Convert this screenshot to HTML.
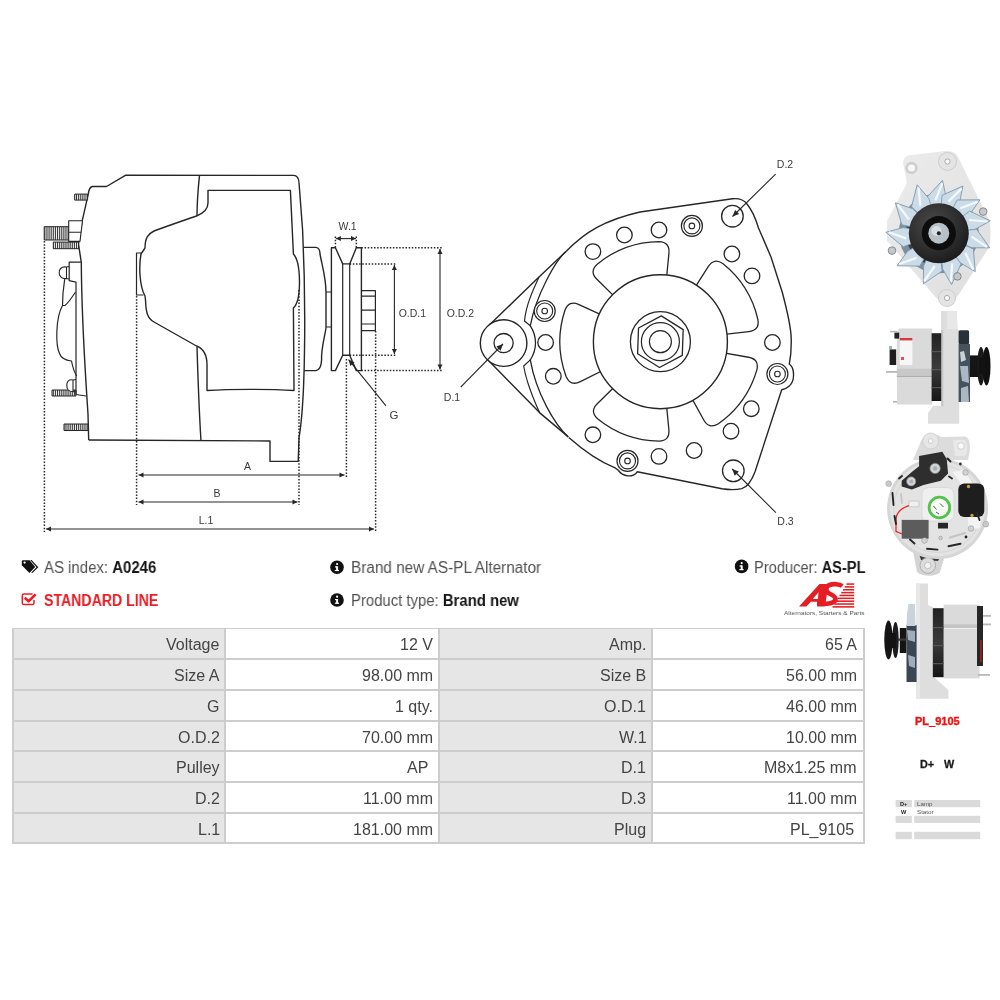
<!DOCTYPE html>
<html><head><meta charset="utf-8"><style>
html,body{margin:0;padding:0;background:#fff;width:1000px;height:1000px;overflow:hidden}
body{position:relative;font-family:"Liberation Sans",sans-serif}
.cell{position:absolute;box-sizing:border-box;text-align:right;padding-right:4.5px;font-size:16px;color:#444444;line-height:28.90px;white-space:nowrap}
.cell span{position:relative;top:2px;display:inline-block;will-change:transform}
.t{position:absolute;white-space:nowrap;line-height:1.2;will-change:transform}
svg{position:absolute;left:0;top:0;will-change:transform}
</style></head><body>
<svg width="1000" height="1000" viewBox="0 0 1000 1000" stroke-linecap="butt" stroke-linejoin="round">
<defs><pattern id="hatch" width="1.9" height="4" patternUnits="userSpaceOnUse"><rect width="1.9" height="4" fill="#fff"/><rect width="1" height="4" fill="#333"/></pattern></defs>
<path d="M92,186.5 L106.5,186.5 L125.4,175.3 L293.6,175.4 Q298.5,175.5 299,182.6" fill="none" stroke="#262626" stroke-width="1.4" />
<path d="M92,186.5 Q89,188 88.3,193.8 L82,221.8 L78.5,244.2 L81.3,262.4 C81.5,300 83,340 88,414 L88.7,440" fill="none" stroke="#262626" stroke-width="1.4" />
<path d="M299,182.6 L302.6,230 C304,260 305,320 304.5,350 C304,390 302,420 299,438 L298.2,461.4" fill="none" stroke="#262626" stroke-width="1.4" />
<path d="M88.7,440 L270,441 L270,461.4 L298.5,461.4" fill="none" stroke="#262626" stroke-width="1.4" />
<path d="M199.5,175.4 C198,190 197,205 197,216" fill="none" stroke="#262626" stroke-width="1.4" />
<path d="M197,347 C198,380 199,410 201,441" fill="none" stroke="#262626" stroke-width="1.4" />
<path d="M208,190.4 L290.4,190.4 L293.4,254 C301,262 302,300 293.4,308 L294,390.5 C270,389 230,389 207,390.5 L207,365 C207,352 202,348 196.5,346 L154,322 C147,318 146,312 145.5,300 L145,296 C139,285 139,265 141,254 L145,248 C145,238 148,234 154,231 C170,225 185,220 196.5,216 C204,213 208,208 208,203 Z" fill="none" stroke="#262626" stroke-width="1.4" />
<path d="M142,253 L136.5,253 L136.5,295 L143.5,295" fill="none" stroke="#262626" stroke-width="1.2" />
<path d="M304,247.4 L316,247.4 Q320,248 320,254 C322,265 326,278 326,292 L326,328 C324,340 321,350 321.6,360 Q321,370 316,370.6 L304,370.6" fill="none" stroke="#262626" stroke-width="1.4" />
<path d="M326,292 L331.4,292 M326,327 L331.4,327" fill="none" stroke="#262626" stroke-width="1.2" />
<path d="M331.4,247.8 L335.4,247.8 L342.7,263.9 L349.7,263.9 L356.3,247.8 L361.4,247.8 L361.4,370.6 L356.3,370.6 L349.7,355.2 L342.7,355.2 L335.4,370.6 L331.4,370.6 Z" fill="none" stroke="#262626" stroke-width="1.4" />
<path d="M342.7,263.9 L342.7,355.2 M349.7,263.9 L349.7,355.2" fill="none" stroke="#262626" stroke-width="1.2" />
<path d="M361.4,290.7 L375.4,290.7 L375.4,330.6 L361.4,330.6 M361.4,296.2 L375.4,296.2 M361.4,310.1 L375.4,310.1 M361.4,324 L375.4,324" fill="none" stroke="#262626" stroke-width="1.2" />
<rect x="74.7" y="194.1" width="12.899999999999991" height="6.0" fill="url(#hatch)" stroke="#262626" stroke-width="1"/>
<rect x="44.2" y="226.7" width="24.5" height="13.300000000000011" fill="url(#hatch)" stroke="#262626" stroke-width="1"/>
<path d="M68.7,220.7 L82.5,220.7 L80,241.4 L68.7,241.4 Z M68.7,232.3 L81,232.3" fill="#fff" stroke="#262626" stroke-width="1.1"/>
<rect x="53.3" y="242.1" width="25.200000000000003" height="6.599999999999994" fill="url(#hatch)" stroke="#262626" stroke-width="1"/>
<rect x="52" y="390" width="24" height="6" fill="url(#hatch)" stroke="#262626" stroke-width="1"/>
<rect x="64" y="424" width="24" height="6.5" fill="url(#hatch)" stroke="#262626" stroke-width="1"/>
<path d="M80.8,262.2 L69.2,262 L69.2,280.7 L76,282.2 L76,394.5 L86,396" fill="none" stroke="#262626" stroke-width="1.2" />
<path d="M66.5,267 C61,266 58.8,270 59.2,273 C59.5,277 62,279 66.5,278.5 Z M66.5,267 L69.2,266.5 M66.5,278.5 L69.2,279" fill="#fff" stroke="#262626" stroke-width="1.1" />
<path d="M64.7,279.2 C63,290 62.5,300 62.5,305.5 C55.5,318 55.5,345 59.5,353.5 C61,358 64,360 71.5,361 C72.5,366 74,372 76.7,376" fill="none" stroke="#262626" stroke-width="1.2" />
<path d="M62.5,305.5 L65,305.5 C68,303 71,299 75.5,292" fill="none" stroke="#262626" stroke-width="1.1" />
<path d="M73,380 C68.5,379 66.8,382 66.8,385.5 C66.8,389 68.5,392 73,391.5 Z M73,380 L76,379.5 M73,391.5 L76,392" fill="#fff" stroke="#262626" stroke-width="1.1" />
<line x1="44.4" y1="241" x2="44.4" y2="532" stroke="#262626" stroke-width="1.5" stroke-dasharray="1.5 1.65"/>
<line x1="375.6" y1="331" x2="375.6" y2="532" stroke="#262626" stroke-width="1.5" stroke-dasharray="1.5 1.65"/>
<line x1="46" y1="529" x2="374" y2="529" stroke="#262626" stroke-width="1.1"/>
<path d="M374.00,529.00 L369.00,531.50 L369.00,526.50 Z" fill="#262626"/>
<path d="M46.00,529.00 L51.00,526.50 L51.00,531.50 Z" fill="#262626"/>
<line x1="136.6" y1="296" x2="136.6" y2="505" stroke="#262626" stroke-width="1.5" stroke-dasharray="1.5 1.65"/>
<line x1="299" y1="290" x2="299" y2="505" stroke="#262626" stroke-width="1.5" stroke-dasharray="1.5 1.65"/>
<line x1="138.5" y1="502" x2="297.5" y2="502" stroke="#262626" stroke-width="1.1"/>
<path d="M297.50,502.00 L292.50,504.50 L292.50,499.50 Z" fill="#262626"/>
<path d="M138.50,502.00 L143.50,499.50 L143.50,504.50 Z" fill="#262626"/>
<line x1="346.4" y1="359" x2="346.4" y2="478" stroke="#262626" stroke-width="1.5" stroke-dasharray="1.5 1.65"/>
<line x1="138.5" y1="475" x2="344.5" y2="475" stroke="#262626" stroke-width="1.1"/>
<path d="M344.50,475.00 L339.50,477.50 L339.50,472.50 Z" fill="#262626"/>
<path d="M138.50,475.00 L143.50,472.50 L143.50,477.50 Z" fill="#262626"/>
<text x="247.5" y="469.5" font-size="10.5" fill="#3a3a3a" text-anchor="middle" font-family="Liberation Sans, sans-serif">A</text>
<text x="217" y="496.5" font-size="10.5" fill="#3a3a3a" text-anchor="middle" font-family="Liberation Sans, sans-serif">B</text>
<text x="206" y="523.5" font-size="10.5" fill="#3a3a3a" text-anchor="middle" font-family="Liberation Sans, sans-serif">L.1</text>
<line x1="335.4" y1="236.5" x2="335.4" y2="247.5" stroke="#262626" stroke-width="1.5" stroke-dasharray="1.5 1.65"/>
<line x1="356.3" y1="236.5" x2="356.3" y2="247.5" stroke="#262626" stroke-width="1.5" stroke-dasharray="1.5 1.65"/>
<line x1="335.8" y1="238.6" x2="356" y2="238.6" stroke="#262626" stroke-width="1.1"/>
<path d="M356.00,238.60 L351.00,241.10 L351.00,236.10 Z" fill="#262626"/>
<path d="M335.80,238.60 L340.80,236.10 L340.80,241.10 Z" fill="#262626"/>
<text x="347.6" y="229.9" font-size="10.5" fill="#3a3a3a" text-anchor="middle" font-family="Liberation Sans, sans-serif">W.1</text>
<line x1="361.4" y1="247.8" x2="442" y2="247.8" stroke="#262626" stroke-width="1.5" stroke-dasharray="1.5 1.65"/>
<line x1="361.4" y1="370.6" x2="442" y2="370.6" stroke="#262626" stroke-width="1.5" stroke-dasharray="1.5 1.65"/>
<line x1="440" y1="249" x2="440" y2="369.5" stroke="#262626" stroke-width="1.1"/>
<path d="M440.00,369.50 L437.50,364.50 L442.50,364.50 Z" fill="#262626"/>
<path d="M440.00,249.00 L442.50,254.00 L437.50,254.00 Z" fill="#262626"/>
<line x1="349.7" y1="263.9" x2="396" y2="263.9" stroke="#262626" stroke-width="1.5" stroke-dasharray="1.5 1.65"/>
<line x1="349.7" y1="355.2" x2="396" y2="355.2" stroke="#262626" stroke-width="1.5" stroke-dasharray="1.5 1.65"/>
<line x1="394.4" y1="265" x2="394.4" y2="354" stroke="#262626" stroke-width="1.1"/>
<path d="M394.40,354.00 L391.90,349.00 L396.90,349.00 Z" fill="#262626"/>
<path d="M394.40,265.00 L396.90,270.00 L391.90,270.00 Z" fill="#262626"/>
<text x="412.4" y="317.2" font-size="10.5" fill="#3a3a3a" text-anchor="middle" font-family="Liberation Sans, sans-serif">O.D.1</text>
<text x="460.4" y="317.2" font-size="10.5" fill="#3a3a3a" text-anchor="middle" font-family="Liberation Sans, sans-serif">O.D.2</text>
<line x1="386" y1="405.8" x2="348.6" y2="359.6" stroke="#262626" stroke-width="1.1"/>
<path d="M348.60,359.60 L354.47,362.56 L350.28,365.96 Z" fill="#262626"/>
<text x="394" y="419" font-size="11.5" fill="#3a3a3a" text-anchor="middle" font-family="Liberation Sans, sans-serif">G</text>
<path d="M566,251.6 C585,232 605,220 640,212 L732.4,198.8 C740,198 744,200 747,204 C751,209 755,216 758.5,228 L771,257 L782.2,292 C787,310 791,325 791.2,338.5 C791.5,350 790.5,358 789.3,364 C795,368 795,381 789.3,386 C786,389 783.5,389.5 781.7,389.8 L755.1,471.5 C752,480 747,487 741.8,488.6 C736,490 730,490 722,488.8 L637.2,471.8 C633,478 623,477 618,470 L615.6,468.2 C600,462 585,452 568.8,437.6" fill="none" stroke="#262626" stroke-width="1.4" />
<path d="M487.8,326.6 L539,277 L566,251.6" fill="none" stroke="#262626" stroke-width="1.4" />
<path d="M487.8,359.8 L539.5,412.6 L568.3,436.9" fill="none" stroke="#262626" stroke-width="1.4" />
<path d="M566,251.6 C556,260 536,295 530.3,325.8 A30.5,30.5 0 0 1 530.3,359.9 C536,393 555,425 568.3,436.9" fill="none" stroke="#262626" stroke-width="1.3" />
<path d="M539,277 C533,290 526,305 524.5,321 L530.3,325.8" fill="none" stroke="#262626" stroke-width="1.2" />
<path d="M539.5,412.6 C533,398 526,381 523.7,366 L530.3,359.9" fill="none" stroke="#262626" stroke-width="1.2" />
<circle cx="503.60" cy="343.10" r="23.30" fill="#fff" stroke="#262626" stroke-width="1.4"/>
<circle cx="503.60" cy="343.10" r="9.60" fill="none" stroke="#262626" stroke-width="1.3"/>
<path d="M605.80,316.82 L578.96,304.58 Q568.95,300.02 564.94,310.26 A100.5,100.5 0 0 0 566.10,376.45 Q570.46,386.54 580.30,381.63 L606.70,368.47" fill="none" stroke="#262626" stroke-width="1.3" />
<path d="M666.15,281.98 L668.93,253.11 Q669.98,242.16 659.00,241.71 A100,100 0 0 0 597.20,264.20 Q589.07,271.61 596.92,279.32 L617.60,299.65" fill="none" stroke="#262626" stroke-width="1.3" />
<path d="M720.01,334.91 L748.83,331.62 Q759.76,330.38 757.91,319.54 A100,100 0 0 0 723.06,263.77 Q714.13,257.36 708.22,266.64 L692.64,291.10" fill="none" stroke="#262626" stroke-width="1.3" />
<path d="M689.49,394.18 L703.79,419.98 Q709.12,429.60 718.43,423.75 A100.5,100.5 0 0 0 756.87,369.86 Q759.37,359.15 748.54,357.24 L719.49,352.12" fill="none" stroke="#262626" stroke-width="1.3" />
<path d="M617.60,383.75 L597.28,403.73 Q589.43,411.44 597.56,418.84 A99.5,99.5 0 0 0 658.95,441.19 Q669.94,440.74 668.88,429.79 L666.15,401.42" fill="none" stroke="#262626" stroke-width="1.3" />
<circle cx="660.40" cy="341.70" r="67.00" fill="#fff" stroke="#262626" stroke-width="1.4"/>
<circle cx="660.40" cy="341.70" r="30.00" fill="none" stroke="#262626" stroke-width="1.3"/>
<polygon points="661.30,315.92 638.52,328.03 637.62,353.81 659.50,367.48 682.28,355.37 683.18,329.59" fill="none" stroke="#262626" stroke-width="1.3"/>
<circle cx="660.40" cy="341.70" r="19.00" fill="none" stroke="#262626" stroke-width="1.2"/>
<circle cx="660.40" cy="341.70" r="11.00" fill="none" stroke="#262626" stroke-width="1.2"/>
<circle cx="592.90" cy="251.60" r="7.80" fill="none" stroke="#262626" stroke-width="1.3"/>
<circle cx="624.40" cy="235.00" r="7.80" fill="none" stroke="#262626" stroke-width="1.3"/>
<circle cx="659.00" cy="230.00" r="7.80" fill="none" stroke="#262626" stroke-width="1.3"/>
<circle cx="731.90" cy="254.00" r="7.80" fill="none" stroke="#262626" stroke-width="1.3"/>
<circle cx="752.00" cy="275.90" r="7.80" fill="none" stroke="#262626" stroke-width="1.3"/>
<circle cx="772.40" cy="342.50" r="7.80" fill="none" stroke="#262626" stroke-width="1.3"/>
<circle cx="751.30" cy="408.70" r="7.80" fill="none" stroke="#262626" stroke-width="1.3"/>
<circle cx="731.00" cy="431.20" r="7.80" fill="none" stroke="#262626" stroke-width="1.3"/>
<circle cx="694.10" cy="450.50" r="7.80" fill="none" stroke="#262626" stroke-width="1.3"/>
<circle cx="659.00" cy="456.40" r="7.80" fill="none" stroke="#262626" stroke-width="1.3"/>
<circle cx="592.90" cy="434.80" r="7.80" fill="none" stroke="#262626" stroke-width="1.3"/>
<circle cx="553.30" cy="376.30" r="7.80" fill="none" stroke="#262626" stroke-width="1.3"/>
<circle cx="545.60" cy="342.50" r="7.80" fill="none" stroke="#262626" stroke-width="1.3"/>
<circle cx="691.90" cy="225.90" r="10.50" fill="#fff" stroke="#262626" stroke-width="1.2"/>
<circle cx="691.90" cy="225.90" r="8.00" fill="none" stroke="#262626" stroke-width="1.1"/>
<circle cx="691.90" cy="225.90" r="2.80" fill="none" stroke="#262626" stroke-width="1.1"/>
<circle cx="777.40" cy="374.00" r="10.50" fill="#fff" stroke="#262626" stroke-width="1.2"/>
<circle cx="777.40" cy="374.00" r="8.00" fill="none" stroke="#262626" stroke-width="1.1"/>
<circle cx="777.40" cy="374.00" r="2.80" fill="none" stroke="#262626" stroke-width="1.1"/>
<circle cx="627.50" cy="460.90" r="10.50" fill="#fff" stroke="#262626" stroke-width="1.2"/>
<circle cx="627.50" cy="460.90" r="8.00" fill="none" stroke="#262626" stroke-width="1.1"/>
<circle cx="627.50" cy="460.90" r="2.80" fill="none" stroke="#262626" stroke-width="1.1"/>
<circle cx="544.70" cy="311.00" r="10.50" fill="#fff" stroke="#262626" stroke-width="1.2"/>
<circle cx="544.70" cy="311.00" r="8.00" fill="none" stroke="#262626" stroke-width="1.1"/>
<circle cx="544.70" cy="311.00" r="2.80" fill="none" stroke="#262626" stroke-width="1.1"/>
<circle cx="732.40" cy="216.20" r="10.80" fill="none" stroke="#262626" stroke-width="1.3"/>
<circle cx="733.30" cy="470.80" r="10.80" fill="none" stroke="#262626" stroke-width="1.3"/>
<line x1="775.6" y1="174.2" x2="732.5" y2="216.5" stroke="#262626" stroke-width="1.1"/>
<path d="M732.50,216.50 L735.11,209.88 L739.17,214.02 Z" fill="#262626"/>
<text x="785" y="167.6" font-size="10.5" fill="#3a3a3a" text-anchor="middle" font-family="Liberation Sans, sans-serif">D.2</text>
<line x1="775.9" y1="512.7" x2="732.2" y2="469" stroke="#262626" stroke-width="1.1"/>
<path d="M732.20,469.00 L738.85,471.55 L734.75,475.65 Z" fill="#262626"/>
<text x="785.5" y="524.5" font-size="10.5" fill="#3a3a3a" text-anchor="middle" font-family="Liberation Sans, sans-serif">D.3</text>
<line x1="460.8" y1="387" x2="503" y2="344" stroke="#262626" stroke-width="1.1"/>
<path d="M503.00,344.00 L500.52,350.67 L496.38,346.61 Z" fill="#262626"/>
<text x="452" y="400.5" font-size="10.5" fill="#3a3a3a" text-anchor="middle" font-family="Liberation Sans, sans-serif">D.1</text>
<defs>
<radialGradient id="pul" cx="0.4" cy="0.35" r="0.7"><stop offset="0" stop-color="#4a4a4a"/><stop offset="0.6" stop-color="#2e2e2e"/><stop offset="1" stop-color="#1a1a1a"/></radialGradient>
<linearGradient id="gray1" x1="0" y1="0" x2="1" y2="1"><stop offset="0" stop-color="#ececec"/><stop offset="1" stop-color="#dedede"/></linearGradient>
<linearGradient id="body2" x1="0" y1="0" x2="0" y2="1"><stop offset="0" stop-color="#e2e2e2"/><stop offset="0.45" stop-color="#d8d8d8"/><stop offset="0.5" stop-color="#c4c4c4"/><stop offset="1" stop-color="#d2d2d2"/></linearGradient>
<linearGradient id="blk" x1="0" y1="0" x2="0" y2="1"><stop offset="0" stop-color="#222"/><stop offset="0.5" stop-color="#3a3a3a"/><stop offset="1" stop-color="#151515"/></linearGradient>
<radialGradient id="fan" cx="0.5" cy="0.5" r="0.5"><stop offset="0.55" stop-color="#9fb6c8"/><stop offset="0.8" stop-color="#d6e2ea"/><stop offset="1" stop-color="#b8c8d4"/></radialGradient>
</defs>
<path d="M903.2,163.4 C903,157 907,155 912,155 L941,151.5 C950,150 956,152 958,157 L989.6,221 C991,232 991,240 988.7,248 L960.8,291.2 C957,298 952,302 946,302 C941,302 937,299 933.8,295 L887,240.8 L887,221 L906.8,183.2 Z" fill="url(#gray1)"/>
<circle cx="911.5" cy="168" r="6.2" fill="#cfcfcf"/><circle cx="911.5" cy="168" r="3.6" fill="#f7f7f7"/>
<circle cx="947.5" cy="161.5" r="9" fill="#e4e4e4" stroke="#cdcdcd" stroke-width="1"/><circle cx="947.5" cy="161.5" r="2.6" fill="#fafafa" stroke="#999" stroke-width="0.8"/>
<circle cx="947" cy="298" r="8.5" fill="#e4e4e4" stroke="#cdcdcd" stroke-width="1"/><circle cx="947" cy="298" r="2.6" fill="#fafafa" stroke="#999" stroke-width="0.8"/>
<circle cx="938.8" cy="233.2" r="40" fill="#7d8f9c"/><circle cx="938.8" cy="233.2" r="33" fill="#3a4046"/>
<path d="M942.5,180.3 L946.3,198.0 L944.6,205.8 L930.1,206.6 L927.1,197.1 Z" fill="#cbdce8" stroke="#7f98ab" stroke-width="0.9"/>
<path d="M942.3,183.3 L935.4,200.4" stroke="#f4f8fb" stroke-width="2.2"/>
<path d="M962.9,186.0 L959.4,203.7 L954.9,210.3 L941.2,205.3 L942.1,195.3 Z" fill="#cbdce8" stroke="#7f98ab" stroke-width="0.9"/>
<path d="M961.5,188.6 L948.4,201.6" stroke="#f4f8fb" stroke-width="2.2"/>
<path d="M980.0,199.8 L969.7,214.7 L962.8,218.8 L952.4,208.7 L957.2,200.0 Z" fill="#cbdce8" stroke="#7f98ab" stroke-width="0.9"/>
<path d="M977.7,201.7 L960.4,208.3" stroke="#f4f8fb" stroke-width="2.2"/>
<path d="M990.3,220.8 L974.6,229.7 L966.7,230.5 L961.6,216.9 L969.7,211.1 Z" fill="#cbdce8" stroke="#7f98ab" stroke-width="0.9"/>
<path d="M987.4,221.5 L969.1,220.0" stroke="#f4f8fb" stroke-width="2.2"/>
<path d="M989.7,247.8 L971.7,247.8 L964.4,244.6 L966.6,230.3 L976.6,229.2 Z" fill="#cbdce8" stroke="#7f98ab" stroke-width="0.9"/>
<path d="M986.9,247.0 L971.6,236.6" stroke="#f4f8fb" stroke-width="2.2"/>
<path d="M975.3,271.6 L959.7,262.5 L955.1,256.0 L964.3,244.8 L973.4,249.0 Z" fill="#cbdce8" stroke="#7f98ab" stroke-width="0.9"/>
<path d="M973.2,269.5 L965.3,252.8" stroke="#f4f8fb" stroke-width="2.2"/>
<path d="M951.6,284.6 L942.6,269.0 L941.7,261.0 L955.3,255.9 L961.1,263.9 Z" fill="#cbdce8" stroke="#7f98ab" stroke-width="0.9"/>
<path d="M950.9,281.7 L952.2,263.3" stroke="#f4f8fb" stroke-width="2.2"/>
<path d="M923.3,283.9 L923.6,265.8 L927.0,258.6 L941.2,261.1 L942.1,271.1 Z" fill="#cbdce8" stroke="#7f98ab" stroke-width="0.9"/>
<path d="M924.2,281.0 L934.8,266.0" stroke="#f4f8fb" stroke-width="2.2"/>
<path d="M897.0,265.8 L907.6,251.2 L914.6,247.2 L924.8,257.4 L919.8,266.1 Z" fill="#cbdce8" stroke="#7f98ab" stroke-width="0.9"/>
<path d="M899.4,264.0 L916.7,257.7" stroke="#f4f8fb" stroke-width="2.2"/>
<path d="M885.8,232.3 L903.2,227.6 L911.1,228.8 L912.7,243.2 L903.3,246.8 Z" fill="#cbdce8" stroke="#7f98ab" stroke-width="0.9"/>
<path d="M888.8,232.3 L906.2,238.4" stroke="#f4f8fb" stroke-width="2.2"/>
<path d="M895.4,202.8 L912.5,208.6 L918.3,214.1 L911.5,226.9 L901.8,224.7 Z" fill="#cbdce8" stroke="#7f98ab" stroke-width="0.9"/>
<path d="M897.8,204.5 L908.9,219.3" stroke="#f4f8fb" stroke-width="2.2"/>
<path d="M917.2,184.8 L928.9,198.6 L931.1,206.3 L918.7,213.7 L911.5,206.8 Z" fill="#cbdce8" stroke="#7f98ab" stroke-width="0.9"/>
<path d="M918.5,187.5 L920.3,205.8" stroke="#f4f8fb" stroke-width="2.2"/>
<circle cx="938.8" cy="233.2" r="30" fill="url(#pul)"/>
<circle cx="938.8" cy="233.2" r="17.1" fill="#0d0d0d"/><circle cx="938.8" cy="233.2" r="10.5" fill="#b7c0c6"/><circle cx="936.5" cy="231" r="5" fill="#d8dee2"/><circle cx="938.8" cy="233.2" r="2" fill="#222"/>
<circle cx="983.2" cy="211.6" r="3.8" fill="#c4c8cc" stroke="#777" stroke-width="0.8"/><circle cx="892" cy="250.6" r="3.8" fill="#c4c8cc" stroke="#777" stroke-width="0.8"/><circle cx="957.4" cy="276.4" r="3.8" fill="#c4c8cc" stroke="#777" stroke-width="0.8"/>
<path d="M941,311 L956.8,311 L957.5,329 L959.2,330 L959.2,423.8 L928,423.8 L928,413 L933,405.8 L941.2,405.8 Z" fill="#dedede"/>
<path d="M947,311 L956.8,311 L956.8,329 L947,329 Z" fill="#e8e8e8"/>
<path d="M899,328.4 L932.2,328.4 L932.2,404.6 L897,404.6 L896.8,332 Z" fill="#dadada"/>
<rect x="896.8" y="368.6" width="35.4" height="7.2" fill="#c8c8c8"/><rect x="896.8" y="375.8" width="35.4" height="1.2" fill="#b0b0b0"/>
<rect x="931.6" y="333.2" width="10.8" height="67.8" fill="url(#blk)"/>
<rect x="931.6" y="351" width="10.8" height="1.2" fill="#555"/><rect x="931.6" y="369" width="10.8" height="1.2" fill="#555"/><rect x="931.6" y="387" width="10.8" height="1.2" fill="#555"/>
<rect x="941.2" y="330" width="2" height="76" fill="#c4c4c4"/>
<rect x="958.6" y="330.2" width="10.5" height="14" rx="1.5" fill="#27313a"/><rect x="958.6" y="344" width="11.4" height="58" fill="#46525c"/><path d="M960,352 L964,351 L966,360 L961,362 Z" fill="#c8d0d8"/><path d="M960,366 L968,366 L969,383 L962,381 Z M961,388 L968,386 L969,402 L961,402 Z" fill="#a9b8c4"/>
<rect x="970" y="355.4" width="9.6" height="21.6" fill="#151515"/>
<ellipse cx="981" cy="366.2" rx="3.8" ry="19.2" fill="#1a1a1a"/><ellipse cx="986.5" cy="366.2" rx="4" ry="19.2" fill="#101010"/><rect x="979" y="358" width="6" height="16" fill="#121212"/>
<rect x="899.8" y="338" width="12.6" height="27" fill="#f6f6f6"/><rect x="899.8" y="338" width="12.6" height="2.4" fill="#d83a3a"/><rect x="901" y="357" width="3" height="3" fill="#e05050"/>
<rect x="889.6" y="349.4" width="6.6" height="15.6" fill="#1e1e1e"/><rect x="894.4" y="332.6" width="4.8" height="6" fill="#222"/>
<rect x="890" y="330.8" width="7" height="1.6" fill="#b8b8b8"/><rect x="886" y="371" width="11" height="1.8" fill="#b8b8b8"/><rect x="893" y="401" width="4" height="1.6" fill="#b8b8b8"/><rect x="889" y="346" width="3" height="3" fill="#9bb"/>
<path d="M913,460 L921,441 C924,434 936,432 941,437 L965,436.5 C971,438 971,450 968,460 Z" fill="#dcdcdc"/>
<path d="M953,440 L965,440 C968,445 968,452 965,456 L955,456 Z" fill="#e8e8e8"/><circle cx="961" cy="446" r="3.3" fill="#fbfbfb" stroke="#b8b8b8" stroke-width="0.6"/>
<circle cx="930.7" cy="441" r="8" fill="#e6e6e6" stroke="#cccccc" stroke-width="0.8"/><circle cx="930.7" cy="441" r="2.3" fill="#fbfbfb" stroke="#aaa" stroke-width="0.5"/>
<path d="M912,546 L947,549 L940,572 C936,577 922,577 917,572 Z" fill="#d4d4d4"/><path d="M918,551 L942,553 L938,561 L921,560 Z" fill="#3c3c3c"/>
<circle cx="927.8" cy="565.5" r="7.8" fill="#dcdcdc" stroke="#a8a8a8" stroke-width="0.9"/><circle cx="927.8" cy="565.5" r="3.2" fill="#f2f2f2" stroke="#999" stroke-width="0.5"/>
<circle cx="937.6" cy="508.5" r="50.5" fill="#d6d6d6"/>
<circle cx="937.6" cy="508.5" r="47.5" fill="#e3e3e3"/>
<circle cx="937.6" cy="508.5" r="44" fill="none" stroke="#d2d2d2" stroke-width="0.8"/>
<path d="M952,472 C962,482 970,500 968,530 L980,528 C984,505 976,482 962,470 Z" fill="#f3f3f3"/>
<path d="M901.7,480.7 L913,471 L919.1,466.2 L919.1,456.1 L942.3,451.7 L946.7,459 L948.1,473.5 L940.9,480.7 L923.5,485 L911.9,489.4 L901.7,486.5 Z" fill="#2e2e2e"/>
<circle cx="935.1" cy="468.4" r="5.2" fill="#d0d4d8" stroke="#777" stroke-width="0.7"/><circle cx="935.1" cy="468.4" r="2.2" fill="#a9aeb2"/><circle cx="911.2" cy="481.4" r="4.6" fill="#d0d4d8" stroke="#777" stroke-width="0.7"/><circle cx="911.2" cy="481.4" r="1.9" fill="#a9aeb2"/>
<rect x="958.3" y="483.6" width="26" height="33.4" rx="6" fill="#1e1e1e"/><circle cx="968.5" cy="486.5" r="1.7" fill="#c9a040"/><circle cx="972" cy="515.5" r="1.7" fill="#c9a040"/>
<path d="M922,494 C922,489 926,487.5 930,487.5 L945,487.5 C951,487.5 954,490 954,496 L954,515 C954,519 951,521 947,521 L928,521 C924,521 922,519 922,515 Z" fill="#efefef" stroke="#d0d0d0" stroke-width="0.6"/>
<circle cx="939.4" cy="507.5" r="10.3" fill="#f7fbf5" stroke="#55c24f" stroke-width="2.8"/><path d="M933.5,506 L936.5,509.5 M940,503.5 L943.5,507 M936,512 L939,514" stroke="#444" stroke-width="0.9"/>
<rect x="901.7" y="519.9" width="26.9" height="18.8" fill="#5c5c5c"/>
<path d="M911.9,504.6 C903,507 896,512 896,520 L896,531.4 L902,534" fill="none" stroke="#e02a20" stroke-width="1.3"/><rect x="909" y="501" width="10" height="5.8" fill="#f0f0f0" stroke="#aaa" stroke-width="0.5"/>
<rect x="938" y="522.8" width="10" height="5.7" fill="#262626"/>
<g stroke="#262626" stroke-width="1.9" stroke-linecap="round" fill="none"><path d="M892.5,493 L893.5,505"/><path d="M894.5,516 L896,524"/><path d="M910,539.5 L914.5,543.5"/><path d="M927,548.8 L937.5,549.6"/><path d="M948.5,546.2 L960.5,543.8"/><path d="M899,478.5 L902,476"/><path d="M947.5,458.5 L950.5,461.5"/><path d="M949,476.5 L952,478.5"/><path d="M976.5,512 L979.5,520"/></g>
<path d="M950,537.5 L965,533" stroke="#c4c4c4" stroke-width="2.2" stroke-linecap="round"/><path d="M901,494 L902,503" stroke="#c4c4c4" stroke-width="1.8" stroke-linecap="round"/>
<circle cx="888.7" cy="483.6" r="2.9" fill="#c9c9c9" stroke="#999" stroke-width="0.5"/><circle cx="985.8" cy="524.2" r="2.9" fill="#c9c9c9" stroke="#999" stroke-width="0.5"/><circle cx="924.5" cy="540.5" r="2.8" fill="#cfd3d6" stroke="#888" stroke-width="0.5"/><circle cx="965.5" cy="472.5" r="2.8" fill="#cfd3d6" stroke="#888" stroke-width="0.5"/><circle cx="971" cy="528.5" r="2.8" fill="#cfd3d6" stroke="#888" stroke-width="0.5"/><circle cx="940.5" cy="538" r="1.8" fill="#cfd3d6" stroke="#888" stroke-width="0.5"/><circle cx="966" cy="537" r="1.4" fill="#222"/><circle cx="960.4" cy="464" r="1.4" fill="#333"/>
<path d="M916,583.6 L928,583.6 L928,605.2 L932.8,607 L932.8,676 L948.4,690 L948.4,698.8 L916,698.8 Z" fill="#dedede"/>
<rect x="916" y="583.6" width="4" height="115.2" fill="#e8e8e8"/>
<rect x="943.6" y="604.6" width="36" height="73.8" fill="#dadada"/><rect x="943.6" y="624.4" width="36" height="3.6" fill="#c4c4c4"/><rect x="943.6" y="628" width="36" height="1" fill="#f0f0f0"/>
<rect x="932.8" y="608.2" width="10.8" height="69" fill="url(#blk)"/>
<rect x="932.8" y="627" width="10.8" height="1.2" fill="#555"/><rect x="932.8" y="645" width="10.8" height="1.2" fill="#555"/><rect x="932.8" y="663" width="10.8" height="1.2" fill="#555"/>
<rect x="906.5" y="625" width="10.1" height="57" fill="#3a4652"/><path d="M908.5,604 L915,604 L915.5,626 L906.5,626 L907,614 Z" fill="#c9d3da"/><path d="M907,630 L915,631 L915,642 L908,640 Z M908,655 L915,657 L915,668 L909,666 Z" fill="#9eadb9"/>
<rect x="899.8" y="628" width="6.6" height="25" fill="#141414"/>
<ellipse cx="888.5" cy="640" rx="4.2" ry="19.5" fill="#141414"/><ellipse cx="895.5" cy="640" rx="3.2" ry="18" fill="#1c1c1c"/><rect x="888" y="633" width="8" height="15" fill="#121212"/><rect x="898" y="638.5" width="8.5" height="2.2" fill="#3a3a3a"/>
<rect x="977" y="606" width="6" height="60" fill="#262626"/><rect x="983" y="615" width="8" height="1.8" fill="#b8b8b8"/><rect x="983" y="623.5" width="8" height="1.8" fill="#b8b8b8"/><rect x="978" y="674" width="12" height="1.8" fill="#b8b8b8"/>
<path d="M981,640 L981,662" stroke="#e02020" stroke-width="1.1"/>
<rect x="895.6" y="800" width="16.2" height="7.2" fill="#dadada"/><rect x="914.2" y="800" width="66" height="7.2" fill="#dadada"/>
<rect x="895.6" y="815.8" width="16.2" height="7.2" fill="#dadada"/><rect x="914.2" y="815.8" width="66" height="7.2" fill="#dadada"/>
<rect x="895.6" y="831.8" width="16.2" height="7.4" fill="#dadada"/><rect x="914.2" y="831.8" width="66" height="7.4" fill="#dadada"/>
<text x="903.7" y="806" font-size="5.6" font-weight="bold" text-anchor="middle" fill="#222" font-family="Liberation Sans, sans-serif">D+</text>
<text x="903.7" y="814" font-size="5.6" font-weight="bold" text-anchor="middle" fill="#222" font-family="Liberation Sans, sans-serif">W</text>
<text x="917" y="806" font-size="6.2" fill="#555" font-family="Liberation Sans, sans-serif">Lamp</text>
<text x="917" y="814" font-size="6.2" fill="#555" font-family="Liberation Sans, sans-serif">Stator</text>
<path d="M799,606.5 L819.5,584 L828.5,584 L825,606.5 L817,606.5 L817.6,601.8 L810.8,601.8 L806.5,606.5 Z M812.8,599 L818.5,592.2 L817.9,599 Z" fill="#e31e24" fill-rule="evenodd"/>
<path d="M842.3,586 C839.5,583.9 833,583.6 829.5,585 C825.5,586.6 825.5,591 828.5,593 C831,594.8 835,595.5 835.5,598.5 C836,602 831,603.5 827,603.8 L817,603.8" fill="none" stroke="#e31e24" stroke-width="4.6"/>
<rect x="846.50" y="583.30" width="7.70" height="1.55" fill="#e31e24"/>
<rect x="844.75" y="586.15" width="9.45" height="1.55" fill="#e31e24"/>
<rect x="843.00" y="589.00" width="11.20" height="1.55" fill="#e31e24"/>
<rect x="841.25" y="591.85" width="12.95" height="1.55" fill="#e31e24"/>
<rect x="839.50" y="594.70" width="14.70" height="1.55" fill="#e31e24"/>
<rect x="837.75" y="597.55" width="16.45" height="1.55" fill="#e31e24"/>
<rect x="836.00" y="600.40" width="18.20" height="1.55" fill="#e31e24"/>
<rect x="834.25" y="603.25" width="19.95" height="1.55" fill="#e31e24"/>
<rect x="832.50" y="606.10" width="21.70" height="1.55" fill="#e31e24"/>
<text x="784" y="615" font-size="5.3" fill="#555" font-family="Liberation Sans, sans-serif" textLength="80.5" lengthAdjust="spacingAndGlyphs">Alternators, Starters &amp; Parts</text>
<g fill="#111"><path d="M22.6,560.2 L29.6,560.3 L35.2,567.1 L29.4,572.9 L21.8,565.2 L21.8,561 Z"/><circle cx="24.6" cy="562.6" r="1.15" fill="#fff"/><path d="M30.2,559.9 L31.6,559.9 L38.3,567.2 L32.4,573.1 L31.3,572.6 L36.5,567.2 Z"/></g>
<g fill="none" stroke="#ed1c24"><path d="M32.6,593.9 L24,593.9 Q22.3,593.9 22.3,595.6 L22.3,603 Q22.3,604.6 24,604.6 L32.4,604.6 Q34,604.6 34,603 L34,600" stroke-width="1.5"/><path d="M24.8,597.8 L28.6,601.3 L35.6,594.4" stroke-width="2.6"/></g>
<circle cx="337" cy="567.3" r="6.8" fill="#111"/><rect x="336.1" y="566.3" width="2" height="4.6" fill="#fff"/><rect x="334.8" y="569.9" width="4.2" height="1.2" fill="#fff"/><rect x="335" y="566.3" width="2.2" height="1.2" fill="#fff"/><circle cx="337.1" cy="564.0" r="1.1" fill="#fff"/>
<circle cx="337" cy="600" r="6.8" fill="#111"/><rect x="336.1" y="599" width="2" height="4.6" fill="#fff"/><rect x="334.8" y="602.6" width="4.2" height="1.2" fill="#fff"/><rect x="335" y="599" width="2.2" height="1.2" fill="#fff"/><circle cx="337.1" cy="596.7" r="1.1" fill="#fff"/>
<circle cx="741.6" cy="566.4" r="6.8" fill="#111"/><rect x="740.7" y="565.4" width="2" height="4.6" fill="#fff"/><rect x="739.4" y="569.0" width="4.2" height="1.2" fill="#fff"/><rect x="739.6" y="565.4" width="2.2" height="1.2" fill="#fff"/><circle cx="741.7" cy="563.1" r="1.1" fill="#fff"/>
</svg>
<div style="position:absolute;left:11.7px;top:627.6px;width:853.3px;height:216.70000000000002px;background:#cdcdcd"></div>
<div class="cell" style="left:13.5px;top:629.40px;width:210.8px;height:28.90px;background:#e6e6e6;padding-right:4.5px"><span>Voltage</span></div>
<div class="cell" style="left:226.10000000000002px;top:629.40px;width:211.59999999999997px;height:28.90px;background:#ffffff;padding-right:4.5px"><span>12 V</span></div>
<div class="cell" style="left:439.5px;top:629.40px;width:211.20000000000005px;height:28.90px;background:#e6e6e6;padding-right:4.5px"><span>Amp.</span></div>
<div class="cell" style="left:652.5px;top:629.40px;width:210.7px;height:28.90px;background:#ffffff;padding-right:6.5px"><span>65 A</span></div>
<div class="cell" style="left:13.5px;top:660.10px;width:210.8px;height:28.90px;background:#e6e6e6;padding-right:4.5px"><span>Size A</span></div>
<div class="cell" style="left:226.10000000000002px;top:660.10px;width:211.59999999999997px;height:28.90px;background:#ffffff;padding-right:4.5px"><span>98.00 mm</span></div>
<div class="cell" style="left:439.5px;top:660.10px;width:211.20000000000005px;height:28.90px;background:#e6e6e6;padding-right:4.5px"><span>Size B</span></div>
<div class="cell" style="left:652.5px;top:660.10px;width:210.7px;height:28.90px;background:#ffffff;padding-right:6.5px"><span>56.00 mm</span></div>
<div class="cell" style="left:13.5px;top:690.80px;width:210.8px;height:28.90px;background:#e6e6e6;padding-right:4.5px"><span>G</span></div>
<div class="cell" style="left:226.10000000000002px;top:690.80px;width:211.59999999999997px;height:28.90px;background:#ffffff;padding-right:4.5px"><span>1 qty.</span></div>
<div class="cell" style="left:439.5px;top:690.80px;width:211.20000000000005px;height:28.90px;background:#e6e6e6;padding-right:4.5px"><span>O.D.1</span></div>
<div class="cell" style="left:652.5px;top:690.80px;width:210.7px;height:28.90px;background:#ffffff;padding-right:6.5px"><span>46.00 mm</span></div>
<div class="cell" style="left:13.5px;top:721.50px;width:210.8px;height:28.90px;background:#e6e6e6;padding-right:4.5px"><span>O.D.2</span></div>
<div class="cell" style="left:226.10000000000002px;top:721.50px;width:211.59999999999997px;height:28.90px;background:#ffffff;padding-right:4.5px"><span>70.00 mm</span></div>
<div class="cell" style="left:439.5px;top:721.50px;width:211.20000000000005px;height:28.90px;background:#e6e6e6;padding-right:4.5px"><span>W.1</span></div>
<div class="cell" style="left:652.5px;top:721.50px;width:210.7px;height:28.90px;background:#ffffff;padding-right:6.5px"><span>10.00 mm</span></div>
<div class="cell" style="left:13.5px;top:752.20px;width:210.8px;height:28.90px;background:#e6e6e6;padding-right:4.5px"><span>Pulley</span></div>
<div class="cell" style="left:226.10000000000002px;top:752.20px;width:211.59999999999997px;height:28.90px;background:#ffffff;padding-right:9.5px"><span>AP</span></div>
<div class="cell" style="left:439.5px;top:752.20px;width:211.20000000000005px;height:28.90px;background:#e6e6e6;padding-right:4.5px"><span>D.1</span></div>
<div class="cell" style="left:652.5px;top:752.20px;width:210.7px;height:28.90px;background:#ffffff;padding-right:6.5px"><span>M8x1.25 mm</span></div>
<div class="cell" style="left:13.5px;top:782.90px;width:210.8px;height:28.90px;background:#e6e6e6;padding-right:4.5px"><span>D.2</span></div>
<div class="cell" style="left:226.10000000000002px;top:782.90px;width:211.59999999999997px;height:28.90px;background:#ffffff;padding-right:4.5px"><span>11.00 mm</span></div>
<div class="cell" style="left:439.5px;top:782.90px;width:211.20000000000005px;height:28.90px;background:#e6e6e6;padding-right:4.5px"><span>D.3</span></div>
<div class="cell" style="left:652.5px;top:782.90px;width:210.7px;height:28.90px;background:#ffffff;padding-right:6.5px"><span>11.00 mm</span></div>
<div class="cell" style="left:13.5px;top:813.60px;width:210.8px;height:28.90px;background:#e6e6e6;padding-right:4.5px"><span>L.1</span></div>
<div class="cell" style="left:226.10000000000002px;top:813.60px;width:211.59999999999997px;height:28.90px;background:#ffffff;padding-right:4.5px"><span>181.00 mm</span></div>
<div class="cell" style="left:439.5px;top:813.60px;width:211.20000000000005px;height:28.90px;background:#e6e6e6;padding-right:4.5px"><span>Plug</span></div>
<div class="cell" style="left:652.5px;top:813.60px;width:210.7px;height:28.90px;background:#ffffff;padding-right:9.2px"><span>PL_9105</span></div>

<div class="t" style="left:44px;top:558.2px;font-size:16px;color:#505050;transform:scaleX(0.935);transform-origin:0 0">AS index: <b style="color:#151515">A0246</b></div>
<div class="t" style="left:44px;top:591.4px;font-size:16px;color:#ed1c24;font-weight:bold;transform:scaleX(0.883);transform-origin:0 0">STANDARD LINE</div>
<div class="t" style="left:350.5px;top:558.2px;font-size:16px;color:#505050;transform:scaleX(0.957);transform-origin:0 0">Brand new AS-PL Alternator</div>
<div class="t" style="left:350.5px;top:591.2px;font-size:16px;color:#505050;transform:scaleX(0.93);transform-origin:0 0">Product type: <b style="color:#151515">Brand new</b></div>
<div class="t" style="left:754.4px;top:558.2px;font-size:16px;color:#505050;transform:scaleX(0.916);transform-origin:0 0">Producer: <b style="color:#151515">AS-PL</b></div>
<div class="t" style="left:915px;top:715px;font-size:11px;color:#f01010;font-weight:bold;-webkit-text-stroke:0.35px #f01010">PL_9105</div>
<div class="t" style="left:919.5px;top:757.6px;font-size:10.8px;color:#1a1a1a;font-weight:bold;-webkit-text-stroke:0.3px #1a1a1a">D+</div>
<div class="t" style="left:944px;top:757.6px;font-size:10.8px;color:#1a1a1a;font-weight:bold;-webkit-text-stroke:0.3px #1a1a1a">W</div>

</body></html>
